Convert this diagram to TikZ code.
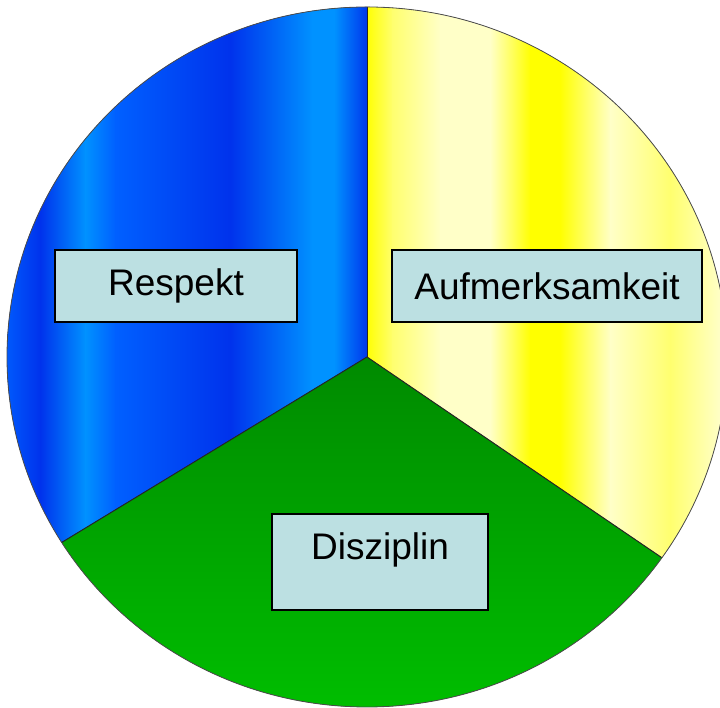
\documentclass[tikz,border=0pt]{standalone}
\usepackage{fontspec}
\setmainfont{Liberation Sans}
\usetikzlibrary{calc,positioning}
\definecolor{boxblue}{RGB}{188,224,226}
\definecolor{bluedark}{RGB}{0,50,236}
\definecolor{bluemid}{RGB}{0,96,255}
\definecolor{bluelight}{RGB}{0,146,255}
\definecolor{yellowfull}{RGB}{255,255,0}
\definecolor{yellowsoft}{RGB}{255,255,110}
\definecolor{cream}{RGB}{255,255,200}
\definecolor{greentop}{RGB}{0,138,0}
\definecolor{greenbot}{RGB}{0,190,0}

\begin{document}
\begin{tikzpicture}[x=1pt, y=1pt,
    field/.style={rectangle, draw=black, line width=1.3pt, fill=boxblue,
                  font=\fontsize{37}{42}\selectfont, minimum height=72pt,
                  inner sep=0pt},
    divider/.style={draw=black!85, line width=1pt},
    rim/.style={draw=black!70, line width=0.8pt}
]
\useasboundingbox (0,0) rectangle (720,708);
\coordinate (c)   at (367,351);
\coordinate (top) at ($(c)+(90:360pt and 350pt)$);
\coordinate (ll)  at ($(c)+(212:360pt and 350pt)$);
\coordinate (lr)  at ($(c)+(325:360pt and 350pt)$);

\begin{scope}
  \clip (c) -- (top) arc[start angle=90, end angle=212, x radius=360pt, y radius=350pt] -- cycle;
  \foreach \xa/\xb/\ca/\cb in {0/40/bluemid/bluedark, 40/85/bluedark/bluelight,
      85/115/bluelight/bluemid, 115/230/bluemid/bluedark, 230/312/bluedark/bluelight,
      312/334/bluelight/bluelight, 334/368/bluelight/bluedark}
    \fill[left color=\ca, right color=\cb] (\xa,0) rectangle (\xb+1,708);
\end{scope}

\begin{scope}
  \clip (c) -- (lr) arc[start angle=-35, end angle=90, x radius=360pt, y radius=350pt] -- cycle;
  \foreach \xa/\xb/\ca/\cb in {366/392/yellowfull/yellowsoft, 392/440/yellowsoft/cream,
      440/490/cream/cream, 490/530/cream/yellowfull, 530/560/yellowfull/yellowfull,
      560/610/yellowfull/cream, 610/670/cream/yellowsoft, 670/720/yellowsoft/cream}
    \fill[left color=\ca, right color=\cb] (\xa,0) rectangle (\xb+1,708);
\end{scope}

\fill[top color=greentop, bottom color=greenbot]
  (c) -- (ll) arc[start angle=212, end angle=325, x radius=360pt, y radius=350pt] -- cycle;

\draw[divider] (top) -- (c);
\draw[divider] (c) -- (ll);
\draw[divider] (c) -- (lr);
\draw[rim] (c) ellipse[x radius=360pt, y radius=350pt];

\node[field, minimum width=242pt] (respekt) at (176,422) {Respekt};
\node[field, minimum width=310pt] (aufmerksamkeit) at (547,422) {Aufmerksamkeit};
\node[field, minimum width=216pt, minimum height=96pt, text height=26pt,
      text depth=31pt] (disziplin) at (380,146) {Disziplin};
\end{tikzpicture}
\end{document}
